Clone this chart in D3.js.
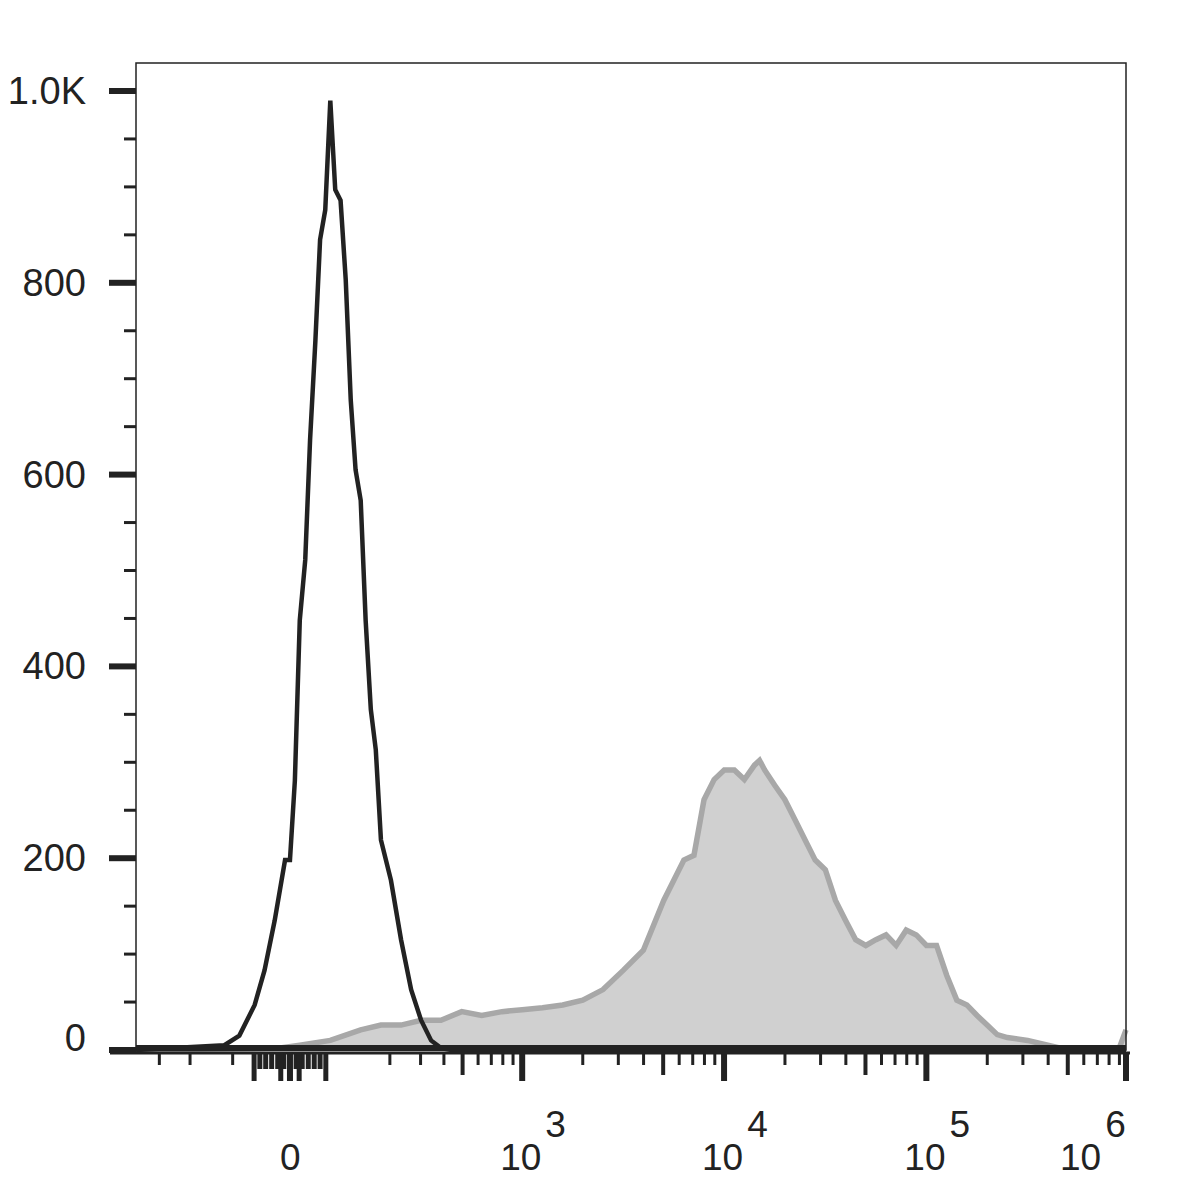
<!DOCTYPE html>
<html>
<head>
<meta charset="utf-8">
<script src="https://cdn.jsdelivr.net/npm/d3@7"></script>
<style>
body { margin: 0; background: #fff; }
text { font-family: "Liberation Sans", Arial, sans-serif; fill: #222; }
</style>
</head>
<body>
<script>
// black (control) histogram: [value, count]
var controlX = [-400, -117, -87, -59, -42, -25, -8, 0, 8, 16, 25, 33, 42, 50, 59, 68, 77, 87, 97, 107, 117, 128, 139, 151, 163, 176, 203, 233, 266, 302, 342, 386, 437, 1e6];
var controlY = [0, 5, 15, 47, 83, 135, 198, 198, 281, 448, 511, 636, 740, 845, 876, 990, 897, 886, 803, 678, 605, 573, 448, 355, 313, 219, 177, 115, 63, 31, 10, 2, 0, 0];

// grey (stained) histogram
var stainX = [-400, -16, 16, 68, 128, 176, 233, 302, 386, 495, 626, 792, 1001, 1263, 1590, 2000, 2520, 3170, 3990, 5030, 6330, 7100, 7960, 8930, 10020, 11240, 12600, 14140, 14980, 15870, 17800, 19980, 22420, 25150, 28230, 31670, 35540, 39870, 44730, 50190, 56310, 63180, 70890, 79500, 89200, 100100, 112300, 126000, 141400, 158600, 178000, 199700, 224100, 251400, 316500, 398400, 501400, 891000, 976000, 1e6];
var stainY = [0, 2, 5, 10, 21, 26, 26, 31, 31, 40, 36, 40, 42, 44, 47, 52, 63, 83, 104, 156, 198, 203, 261, 282, 292, 292, 282, 297, 302, 292, 276, 261, 240, 219, 198, 188, 156, 135, 115, 109, 115, 120, 109, 125, 120, 109, 109, 78, 52, 47, 36, 26, 16, 13, 10, 5, 0, 0, 21, 21];

var yTicks = [0, 200, 400, 600, 800, 1000];
var yLabels = ["0", "200", "400", "600", "800", "1.0K"];
var xMajor = [0, 1e3, 1e4, 1e5, 1e6];
var xExp = ["", "3", "4", "5", "6"];
var xMinorLow = [-300, -200, -100, 200, 300, 400, 600, 700, 800, 900];
var xCluster = [-50, -40, -30, -20, -10, 10, 20, 30, 40, 50];
var xClusterLong = [-60, -15, 0, 15, 60];

var mLeft = 136, mTop = 63, mRight = 1126, mBottom = 1050;
var w = mRight - mLeft, h = mBottom - mTop;

var svg = d3.select("body").append("svg").attr("width", 1180).attr("height", 1194);
var g = svg.append("g").attr("transform", "translate(" + mLeft + "," + mTop + ")");

var c = 143;
function tr(v) { return Math.asinh(v / c); }
var xl = d3.scaleLinear().domain([tr(-400), tr(0.97e6)]).range([0, w]);
function x(v) { return Math.min(w, xl(tr(v))); }
var y = d3.scaleLinear().domain([0, 1000]).range([h, 91 - mTop]);

var stain = stainX.map(function (v, i) { return [v, stainY[i]]; });
var control = controlX.map(function (v, i) { return [v, controlY[i]]; });

g.append("path").datum(stain)
    .attr("fill", "#d0d0d0")
    .attr("d", d3.area().x(function (d) { return x(d[0]); }).y0(h).y1(function (d) { return y(d[1]); }));
g.append("path").datum(stain)
    .attr("fill", "none").attr("stroke", "#a8a8a8").attr("stroke-width", 5.5)
    .attr("d", d3.line().x(function (d) { return x(d[0]); }).y(function (d) { return y(d[1]); }));
g.append("path").datum(control)
    .attr("fill", "none").attr("stroke", "#222").attr("stroke-width", 4.5)
    .attr("d", d3.line().x(function (d) { return x(d[0]); }).y(function (d) { return y(d[1]); }));

// frame
g.append("rect").attr("width", w).attr("height", h)
    .attr("fill", "none").attr("stroke", "#222").attr("stroke-width", 1.5);
g.append("line").attr("x1", 0).attr("x2", w).attr("y1", h - 2).attr("y2", h - 2)
    .attr("stroke", "#222").attr("stroke-width", 6);
g.append("line").attr("x1", -26).attr("x2", w + 4).attr("y1", h + 3).attr("y2", h + 3)
    .attr("stroke", "#222").attr("stroke-width", 3);

// y ticks
var yMinor = d3.range(50, 1000, 50).filter(function (v) { return v % 200 !== 0; });
g.selectAll(".ym").data(yMinor).enter().append("line")
    .attr("x1", -12).attr("x2", 0).attr("y1", y).attr("y2", y)
    .attr("stroke", "#222").attr("stroke-width", 3);
g.selectAll(".yM").data(yTicks).enter().append("line")
    .attr("x1", -27).attr("x2", 0).attr("y1", y).attr("y2", y)
    .attr("stroke", "#222").attr("stroke-width", 6);
g.selectAll(".yl").data(yTicks).enter().append("text")
    .attr("x", -50).attr("y", function (d) { return y(d) + 13 - (d === 0 ? 12 : 0); })
    .attr("text-anchor", "end").attr("font-size", 38)
    .text(function (d, i) { return yLabels[i]; });

// x ticks
function xt(vals, len, sw) {
    g.append("g").selectAll("line").data(vals).enter().append("line")
        .attr("x1", x).attr("x2", x).attr("y1", h + 3).attr("y2", h + 3 + len)
        .attr("stroke", "#222").attr("stroke-width", sw);
}
var decMinor = [], decMid = [];
[1e3, 1e4, 1e5].forEach(function (d) {
    for (var k = 2; k <= 9; k++) (k === 5 ? decMid : decMinor).push(k * d);
});
xt(xMinorLow.concat(decMinor), 12, 3);
xt(decMid.concat([500]), 22, 4);
xt(xCluster, 16, 5);
xt(xClusterLong, 28, 5);
xt(xMajor, 28, 6);

var lab = g.selectAll(".xl").data(xMajor).enter().append("text")
    .attr("x", function (d, i) { return x(d) - (d === 0 ? 10 : i === xMajor.length - 1 ? 66 : 22); })
    .attr("y", 1170 - mTop).attr("font-size", 37).attr("text-anchor", "start");
lab.append("tspan").text(function (d) { return d === 0 ? "0" : "10"; });
lab.append("tspan").attr("dy", -33).attr("dx", 4)
    .text(function (d, i) { return xExp[i]; });
</script>
</body>
</html>
